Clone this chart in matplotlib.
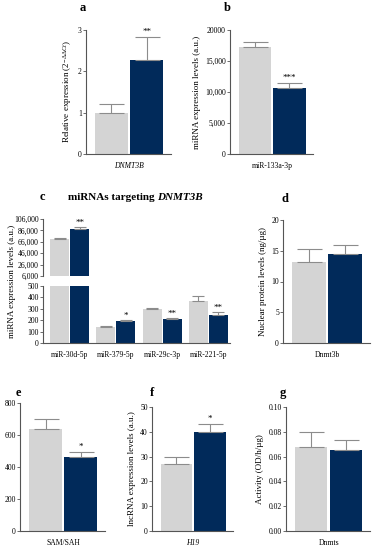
import matplotlib
matplotlib.use("Agg")
import matplotlib.pyplot as plt
import numpy as np

plt.rcParams['font.family'] = ['Liberation Serif', 'DejaVu Serif']
plt.rcParams['mathtext.fontset'] = 'custom'
plt.rcParams['mathtext.rm'] = 'Liberation Serif'
plt.rcParams['mathtext.it'] = 'Liberation Serif:italic'

GREY = '#d4d4d4'
NAVY = '#012a5a'
ERR = '#8c8c8c'
SPINE = '#555555'

# данные
a_vals = [1.0, 2.28]
a_err = [0.2, 0.54]
a_sig = ['', '**']

b_vals = [17200, 10700]
b_err = [900, 800]
b_sig = ['', '***']

c_labels = ['miR-30d-5p', 'miR-379-5p', 'miR-29c-3p', 'miR-221-5p']
c_grey = [71000, 140, 295, 372]
c_grey_err = [2500, 8, 10, 36]
c_navy = [89000, 195, 207, 250]
c_navy_err = [2500, 5, 8, 18]
c_sig = ['**', '*', '**', '**']

d_vals = [13.1, 14.5]
d_err = [2.2, 1.4]

e_vals = [635, 465]
e_err = [65, 30]
e_sig = ['', '*']

f_vals = [27.0, 40.0]
f_err = [2.8, 3.0]
f_sig = ['', '*']

g_vals = [0.068, 0.065]
g_err = [0.012, 0.008]

W, H = 375, 550
fig = plt.figure(figsize=(W / 100, H / 100), dpi=100)


def add_ax(x0, x1, y0, y1):
    return fig.add_axes([x0 / W, 1 - y1 / H, (x1 - x0) / W, (y1 - y0) / H])


def style(ax, bottom=True):
    for s in ['top', 'right']:
        ax.spines[s].set_visible(False)
    ax.spines['left'].set_color(SPINE)
    ax.spines['bottom'].set_color(SPINE)
    ax.spines['left'].set_linewidth(0.8)
    ax.spines['bottom'].set_linewidth(0.8)
    if not bottom:
        ax.spines['bottom'].set_visible(False)
    ax.tick_params(axis='y', length=2, width=0.6, color=SPINE, labelsize=5.5, pad=1)
    ax.tick_params(axis='x', length=0, labelsize=5.5, pad=6)


def two_bars(ax, vals, errs, sig, ymax, ticks, ticklabels, xlabel, ylabel,
             italic=False, capsize=9):
    x = np.arange(2)
    ax.bar(x, vals, width=0.93, color=[GREY, NAVY])
    ax.errorbar(x, vals, yerr=[[0, 0], errs], fmt='none', ecolor=ERR,
                elinewidth=0.8, capsize=capsize, capthick=0.8)
    for xi, v, e, s in zip(x, vals, errs, sig):
        if s:
            ax.text(xi, v + e + ymax * 0.01, s, ha='center', va='bottom',
                    fontsize=6.5)
    ax.set_xlim(-0.72, 1.68)
    ax.set_ylim(0, ymax)
    ax.set_yticks(ticks)
    ax.set_yticklabels(ticklabels)
    ax.set_xticks([0.5])
    ax.set_xticklabels([xlabel], style='italic' if italic else 'normal')
    if ylabel:
        ax.set_ylabel(ylabel, fontsize=6.5, labelpad=3)
    style(ax)


# a
ax = add_ax(86, 171, 30, 154)
two_bars(ax, a_vals, a_err, a_sig, 3, [0, 1, 2, 3], ['0', '1', '2', '3'],
         'DNMT3B', r'Relative expression (2$^{-\Delta\Delta Ct}$)', italic=True)
fig.text(83 / W, 1 - 8 / H, 'a', fontsize=9, fontweight='bold', ha='center', va='center')

# b
ax = add_ax(230, 313, 30, 154)
two_bars(ax, b_vals, b_err, b_sig, 20000, [0, 5000, 10000, 15000, 20000],
         ['0', '5,000', '10,000', '15,000', '20000'],
         'miR-133a-3p', 'miRNA expression levels (a.u.)')
fig.text(227 / W, 1 - 8 / H, 'b', fontsize=9, fontweight='bold', ha='center', va='center')

# c
grp = np.arange(len(c_labels)) * 2.3
xg = grp - 0.5
xn = grp + 0.5
xl = (-1.325, grp[-1] + 1.075)

ax_top = add_ax(43, 230, 219, 276)
ax_bot = add_ax(43, 230, 286, 343)
for axc, (lo, hi) in [(ax_top, (6000, 106000)), (ax_bot, (0, 500))]:
    axc.bar(xg, c_grey, width=0.95, color=GREY)
    axc.bar(xn, c_navy, width=0.95, color=NAVY)
    axc.errorbar(xg, c_grey, yerr=[[0] * 4, c_grey_err], fmt='none', ecolor=ERR,
                 elinewidth=0.8, capsize=4, capthick=0.8)
    axc.errorbar(xn, c_navy, yerr=[[0] * 4, c_navy_err], fmt='none', ecolor=ERR,
                 elinewidth=0.8, capsize=4, capthick=0.8)
    axc.set_xlim(*xl)
    axc.set_ylim(lo, hi)

ax_top.set_yticks(np.arange(6000, 106001, 20000))
ax_top.set_yticklabels([f'{v:,}' for v in range(6000, 106001, 20000)])
ax_top.set_xticks([])
style(ax_top, bottom=False)
ax_top.text(xn[0], c_navy[0] + c_navy_err[0] + 500, c_sig[0], ha='center',
            va='bottom', fontsize=6.5)

ax_bot.set_yticks(np.arange(0, 501, 100))
ax_bot.set_xticks(grp)
ax_bot.set_xticklabels(c_labels)
style(ax_bot)
for i in range(1, 4):
    ax_bot.text(xn[i], c_navy[i] + c_navy_err[i] + 4, c_sig[i], ha='center',
                va='bottom', fontsize=6.5)

fig.text(12 / W, 1 - 281 / H, 'miRNA expression levels (a.u.)', rotation=90,
         fontsize=6.5, ha='center', va='center')
fig.text(42 / W, 1 - 197 / H, 'c', fontsize=9, fontweight='bold', ha='center', va='center')
fig.text(157 / W, 1 - 197 / H, 'miRNAs targeting ', fontsize=8, fontweight='bold',
         ha='right', va='center')
fig.text(157 / W, 1 - 197 / H, 'DNMT3B', fontsize=8, fontweight='bold',
         style='italic', ha='left', va='center')

# d
ax = add_ax(283, 370, 220, 343)
two_bars(ax, d_vals, d_err, ['', ''], 20, [0, 5, 10, 15, 20],
         ['0', '5', '10', '15', '20'], 'Dnmt3b', 'Nuclear protein levels (ng/µg)')
fig.text(285 / W, 1 - 199 / H, 'd', fontsize=9, fontweight='bold', ha='center', va='center')

# e
ax = add_ax(20, 105, 403, 531)
two_bars(ax, e_vals, e_err, e_sig, 800, [0, 200, 400, 600, 800],
         ['0', '200', '400', '600', '800'], 'SAM/SAH', '')
fig.text(18 / W, 1 - 393 / H, 'e', fontsize=9, fontweight='bold', ha='center', va='center')

# f
ax = add_ax(152, 233, 407, 531)
two_bars(ax, f_vals, f_err, f_sig, 50, [0, 10, 20, 30, 40, 50],
         ['0', '10', '20', '30', '40', '50'], 'H19',
         'lncRNA expression levels (a.u.)', italic=True)
fig.text(152 / W, 1 - 393 / H, 'f', fontsize=9, fontweight='bold', ha='center', va='center')

# g
ax = add_ax(286, 370, 407, 531)
two_bars(ax, g_vals, g_err, ['', ''], 0.10, [0, 0.02, 0.04, 0.06, 0.08, 0.10],
         ['0.00', '0.02', '0.04', '0.06', '0.08', '0.10'], 'Dnmts',
         'Activity (OD/h/µg)')
fig.text(283 / W, 1 - 393 / H, 'g', fontsize=9, fontweight='bold', ha='center', va='center')

fig.savefig('out.png', dpi=100)
